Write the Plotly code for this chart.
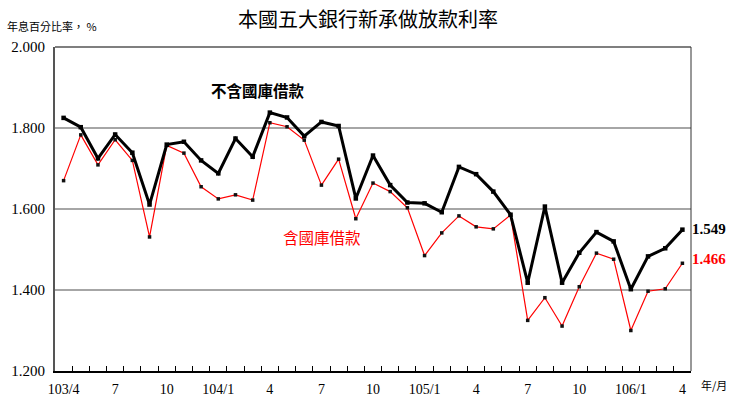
import plotly.graph_objs as go

# 月份 (103/4 ~ 106/4)
months = ['103/4', '103/5', '103/6', '103/7', '103/8', '103/9', '103/10', '103/11', '103/12',
          '104/1', '104/2', '104/3', '104/4', '104/5', '104/6', '104/7', '104/8', '104/9',
          '104/10', '104/11', '104/12', '105/1', '105/2', '105/3', '105/4', '105/5', '105/6',
          '105/7', '105/8', '105/9', '105/10', '105/11', '105/12', '106/1', '106/2', '106/3',
          '106/4']

# 刻度標籤 (每三個月)
tick_labels = ['103/4', '', '', '7', '', '', '10', '', '', '104/1', '', '', '4', '', '', '7', '', '',
               '10', '', '', '105/1', '', '', '4', '', '', '7', '', '', '10', '', '', '106/1', '', '',
               '4']

# 不含國庫借款
sin_tesoro = [1.825, 1.802, 1.725, 1.784, 1.739, 1.611, 1.759, 1.766, 1.720,
              1.688, 1.774, 1.729, 1.838, 1.826, 1.780, 1.815, 1.805, 1.626,
              1.732, 1.659, 1.616, 1.614, 1.592, 1.704, 1.686, 1.643, 1.586,
              1.418, 1.606, 1.418, 1.492, 1.543, 1.520, 1.402, 1.483, 1.503,
              1.549]

# 含國庫借款
con_tesoro = [1.670, 1.783, 1.709, 1.771, 1.720, 1.531, 1.757, 1.738, 1.655,
              1.625, 1.635, 1.622, 1.813, 1.803, 1.770, 1.659, 1.723, 1.576,
              1.664, 1.643, 1.603, 1.485, 1.541, 1.583, 1.556, 1.551, 1.585,
              1.325, 1.381, 1.311, 1.408, 1.491, 1.476, 1.300, 1.397, 1.403,
              1.466]

cjk = 'Noto Sans CJK TC'
serif = 'Liberation Serif'

fig = go.Figure()

fig.add_trace(go.Scatter(x=months, y=con_tesoro, mode='lines+markers',
                         line=dict(color='#ff0000', width=1.2),
                         marker=dict(color='#111111', size=3.5, symbol='square')))
fig.add_trace(go.Scatter(x=months, y=sin_tesoro, mode='lines+markers',
                         line=dict(color='#000000', width=3),
                         marker=dict(color='#000000', size=4.5, symbol='square')))

fig.update_layout(
    width=737, height=402,
    margin=dict(l=55, r=46, t=47, b=31),
    paper_bgcolor='white', plot_bgcolor='white',
    showlegend=False,
)

fig.update_xaxes(type='category', tickmode='array', tickvals=months, ticktext=tick_labels,
                 tickson='boundaries', ticks='inside', ticklen=5, tickcolor='black', tickwidth=1,
                 tickangle=0, automargin=False, ticklabelstandoff=4,
                 range=[-0.5, 36.5], showgrid=False, showline=True, linecolor='black',
                 linewidth=1.5, mirror=False, tickfont=dict(family=serif, size=14, color='black'))

fig.update_yaxes(range=[1.2, 2.0], tickvals=[1.2, 1.4, 1.6, 1.8, 2.0], tickformat='.3f',
                 automargin=False, ticklabelstandoff=5,
                 showgrid=True, gridcolor='#a6a6a6', gridwidth=1.5, showline=True,
                 linecolor='#555555', linewidth=2, ticks='', zeroline=False,
                 tickfont=dict(family=serif, size=15, color='black'))

# 外框 (上、右)
fig.add_shape(type='line', xref='paper', yref='paper', x0=0, x1=1, y0=1, y1=1,
              line=dict(color='#555555', width=1.5))
fig.add_shape(type='line', xref='paper', yref='paper', x0=1, x1=1, y0=0, y1=1,
              line=dict(color='#333333', width=1))

anns = [
    dict(text='本國五大銀行新承做放款利率', xref='paper', yref='paper', x=0.492, y=1.088,
         xanchor='center', font=dict(family=cjk, size=20, color='black')),
    dict(text='年息百分比率， %', xref='paper', yref='paper', x=-0.079, y=1.065,
         xanchor='left', font=dict(family=cjk, size=11, color='black')),
    dict(text='<b>不含國庫借款</b>', xref='paper', yref='y', x=0.319, y=1.894,
         xanchor='center', font=dict(family=cjk, size=15.5, color='black')),
    dict(text='含國庫借款', xref='paper', yref='y', x=0.42, y=1.531,
         xanchor='center', font=dict(family=cjk, size=15.5, color='#ff0000')),
    dict(text='<b>1.549</b>', xref='paper', yref='y', x=1.028, y=1.551,
         xanchor='center', font=dict(family=serif, size=15, color='black')),
    dict(text='<b>1.466</b>', xref='paper', yref='y', x=1.028, y=1.476,
         xanchor='center', font=dict(family=serif, size=15, color='#ff0000')),
    dict(text='年/月', xref='paper', yref='paper', x=1.036, y=-0.043,
         xanchor='center', font=dict(family=cjk, size=11, color='black')),
]
for a in anns:
    fig.add_annotation(showarrow=False, yanchor='middle', **a)

# quitar el margen de 8px del body y la barra de herramientas
fig.write_html('out.html', config={'displayModeBar': False},
               post_script="document.body.style.margin='0px';")
